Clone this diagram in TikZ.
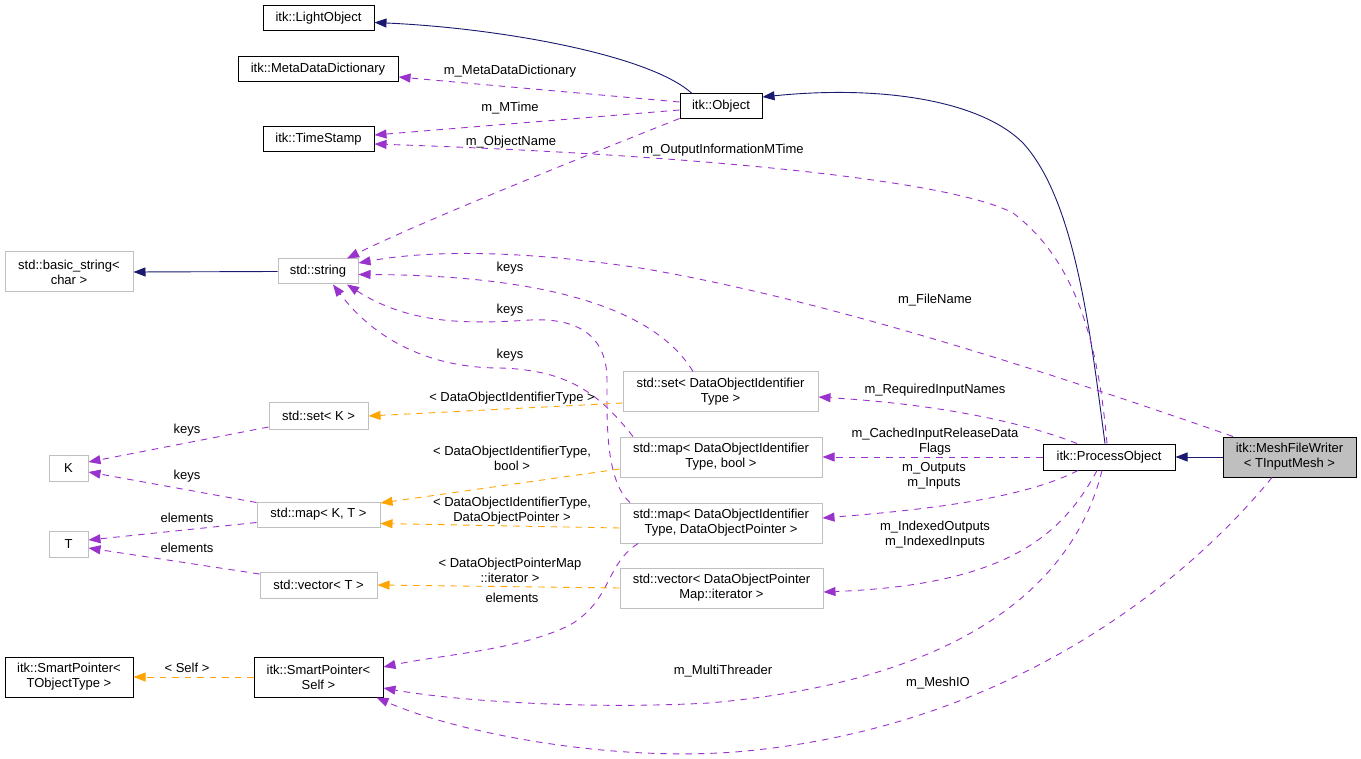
\documentclass[tikz,border=0pt]{standalone}
\usepackage{fontspec}
\newfontfamily\dfont{Liberation Sans}
\usetikzlibrary{arrows.meta,calc}
\definecolor{navy}{HTML}{191970}
\definecolor{purp}{HTML}{9A32CD}
\definecolor{orng}{HTML}{FFA500}
\definecolor{lgray}{HTML}{BFBFBF}
\newcommand\lbl{\dfont\fontsize{13}{15}\selectfont}
\begin{document}
\begin{tikzpicture}[x=1pt,y=-1pt,
 cls/.style={draw=black, line width=1pt, inner sep=0pt, align=center, font=\lbl},
 ext/.style={draw=lgray, line width=1pt, inner sep=0pt, align=center, font=\lbl},
 arr/.style={-{Triangle[length=12pt,width=9pt]}},
 inh/.style={draw=navy, line width=0.9pt, arr},
 usage/.style={draw=purp, line width=0.9pt, dash pattern=on 6.5pt off 6pt, arr},
 tmpl/.style={draw=orng, line width=0.9pt, dash pattern=on 6.5pt off 6pt, arr},
 elab/.style={font=\lbl, inner sep=0pt, align=center}]
\useasboundingbox (0,0) rectangle (1361,759);
\fill[white] (0,0) rectangle (1361,759);

% nodes
\node[cls, minimum width=111pt, minimum height=25pt] (LO) at (318.5,18.5) {itk::LightObject};
\node[cls, minimum width=160pt, minimum height=25pt] (MDD) at (318,69.5) {itk::MetaDataDictionary};
\node[cls, minimum width=111pt, minimum height=25pt] (TS) at (318.5,139.5) {itk::TimeStamp};
\node[cls, minimum width=82pt, minimum height=25pt] (OB) at (721,106.5) {itk::Object};
\node[ext, minimum width=128pt, minimum height=40pt] (BS) at (69,272) {std::basic\_string<\\char >};
\node[ext, minimum width=80pt, minimum height=25pt] (ST) at (318,271.5) {std::string};
\node[ext, minimum width=195pt, minimum height=40pt] (SD) at (720.5,392) {std::set< DataObjectIdentifier\\Type >};
\node[ext, minimum width=202pt, minimum height=40pt] (MB) at (721,457) {std::map< DataObjectIdentifier\\Type, bool >};
\node[ext, minimum width=202pt, minimum height=40pt] (MD) at (721,523) {std::map< DataObjectIdentifier\\Type, DataObjectPointer >};
\node[ext, minimum width=203pt, minimum height=40pt] (VI) at (721.5,588) {std::vector< DataObjectPointer\\Map::iterator >};
\node[cls, minimum width=132pt, minimum height=26pt] (PO) at (1109,457) {itk::ProcessObject};
\node[cls, fill=lgray, minimum width=133pt, minimum height=40pt] (MW) at (1289.5,457) {itk::MeshFileWriter\\< TInputMesh >};
\node[ext, minimum width=99pt, minimum height=26pt] (SK) at (318.5,416) {std::set< K >};
\node[ext, minimum width=39pt, minimum height=26pt] (K) at (68.5,468) {K};
\node[ext, minimum width=123pt, minimum height=25pt] (MK) at (318.5,514.5) {std::map< K, T >};
\node[ext, minimum width=39pt, minimum height=26pt] (T) at (68.5,544) {T};
\node[ext, minimum width=117pt, minimum height=26pt] (VT) at (318.5,585) {std::vector< T >};
\node[cls, minimum width=128pt, minimum height=40pt] (SPT) at (69,677) {itk::SmartPointer<\\TObjectType >};
\node[cls, minimum width=129pt, minimum height=40pt] (SPS) at (318.5,677) {itk::SmartPointer<\\Self >};

% inheritance
\draw[inh] ($(OB.north)+(-29,0)$) .. controls (650,55) and (500,28) .. ($(LO.east)+(0,4)$);
\draw[inh] ($(PO.north)+(-4,0)$) .. controls (1090,330) and (1075,200) .. (1023,143) .. controls (980,100) and (880,85) .. ($(OB.east)+(0,-9.5)$);
\draw[inh] (MW.west) -- (PO.east);
\draw[inh] (ST.west) -- (BS.east);

% usage
\draw[usage] ($(OB.west)+(0,-4.5)$) -- ($(MDD.east)+(0,7.5)$);
\draw[usage] ($(OB.west)+(0,3.5)$) -- ($(TS.east)+(0,-4.5)$);
\draw[usage] ($(PO.north)+(-2,0)$) .. controls (1098,340) and (1075,260) .. (1013,213) .. controls (950,180) and (700,155) .. ($(TS.east)+(0,4.5)$);
\draw[usage] ($(OB.south west)+(0,-1)$) .. controls (600,150) and (420,222) .. ($(ST.north)+(29,0)$);
\draw[usage] ($(MW.north)+(-56.5,0)$) .. controls (1000,355) and (800,295) .. (640,268) .. controls (520,250) and (430,250) .. ($(ST.east)+(0,-8.5)$);
\draw[usage] ($(SD.north)+(-27.5,0)$) .. controls (650,300) and (520,275) .. ($(ST.east)+(0,3)$);
\draw[usage] ($(MD.north)+(-91,0)$) .. controls (605,480) and (607,420) .. (607,380) .. controls (607,330) and (570,318) .. (530,320) .. controls (470,324) and (410,325) .. ($(ST.south)+(29,0)$);
\draw[usage] ($(MB.north)+(-88,0)$) .. controls (600,395) and (570,370) .. (500,368) .. controls (430,368) and (375,340) .. ($(ST.south)+(15,0)$);
\draw[usage] ($(PO.north)+(-32,0)$) .. controls (1030,425) and (950,405) .. ($(SD.east)+(0,5)$);
\draw[usage] (PO.west) -- (MB.east);
\draw[usage] ($(PO.south)+(-31,0)$) .. controls (1030,495) and (950,508) .. ($(MD.east)+(0,-5)$);
\draw[usage] ($(PO.south)+(-12,0)$) .. controls (1060,540) and (1000,585) .. ($(VI.east)+(0,4)$);
\draw[usage] ($(PO.south)+(-7,0)$) .. controls (1075,580) and (970,680) .. (709,703) .. controls (580,710) and (450,700) .. ($(SPS.east)+(0,11)$);
\draw[usage] ($(MW.south)+(-17.5,0)$) .. controls (1180,590) and (1000,730) .. (735,752) .. controls (600,762) and (450,730) .. ($(SPS.south)+(58,0)$);
\draw[usage] ($(MD.south)+(-83,0)$) .. controls (605,565) and (612,600) .. (570,625) .. controls (520,650) and (440,655) .. ($(SPS.east)+(0,-10)$);
\draw[usage] ($(SK.west)+(0,11)$) -- ($(K.east)+(0,-6)$);
\draw[usage] ($(MK.west)+(0,-12)$) -- ($(K.east)+(0,4)$);
\draw[usage] ($(MK.west)+(0,8)$) -- ($(T.east)+(0,-4)$);
\draw[usage] ($(VT.west)+(0,-11)$) -- ($(T.east)+(0,4)$);

% template instantiation
\draw[tmpl] ($(SD.west)+(0,11)$) -- (SK.east);
\draw[tmpl] ($(MB.west)+(0,12)$) -- ($(MK.east)+(0,-11.5)$);
\draw[tmpl] ($(MD.west)+(0,5)$) -- ($(MK.east)+(0,9)$);
\draw[tmpl] (VI.west) -- (VT.east);
\draw[tmpl] (SPS.west) -- (SPT.east);

% labels
\node[elab] (l1) at (510,71) {m\_MetaDataDictionary};
\node[elab] (l2) at (510,108) {m\_MTime};
\node[elab] (l3) at (511,142) {m\_ObjectName};
\node[elab] (l4) at (723,150) {m\_OutputInformationMTime};
\node[elab] (l5) at (935,300) {m\_FileName};
\node[elab] (l6) at (510,268) {keys};
\node[elab] (l7) at (510,310) {keys};
\node[elab] (l8) at (510,355) {keys};
\node[elab] (l9) at (935,390) {m\_RequiredInputNames};
\node[elab] (l10) at (935,442) {m\_CachedInputReleaseData\\Flags};
\node[elab] (l11) at (934,475.5) {m\_Outputs\\m\_Inputs};
\node[elab] (l12) at (935,534.5) {m\_IndexedOutputs\\m\_IndexedInputs};
\node[elab] (l13) at (512,398) {< DataObjectIdentifierType >};
\node[elab] (l14) at (512,458) {< DataObjectIdentifierType,\\bool >};
\node[elab] (l15) at (512,511) {< DataObjectIdentifierType,\\DataObjectPointer >};
\node[elab] (l16) at (510,570.5) {< DataObjectPointerMap\\::iterator >};
\node[elab] (l17) at (512,598) {elements};
\node[elab] (l18) at (723,671) {m\_MultiThreader};
\node[elab] (l19) at (938,683) {m\_MeshIO};
\node[elab] (l20) at (187,430) {keys};
\node[elab] (l21) at (187,476) {keys};
\node[elab] (l22) at (187,518) {elements};
\node[elab] (l23) at (187,548) {elements};
\node[elab] (l24) at (187,668) {< Self >};
\end{tikzpicture}
\end{document}
